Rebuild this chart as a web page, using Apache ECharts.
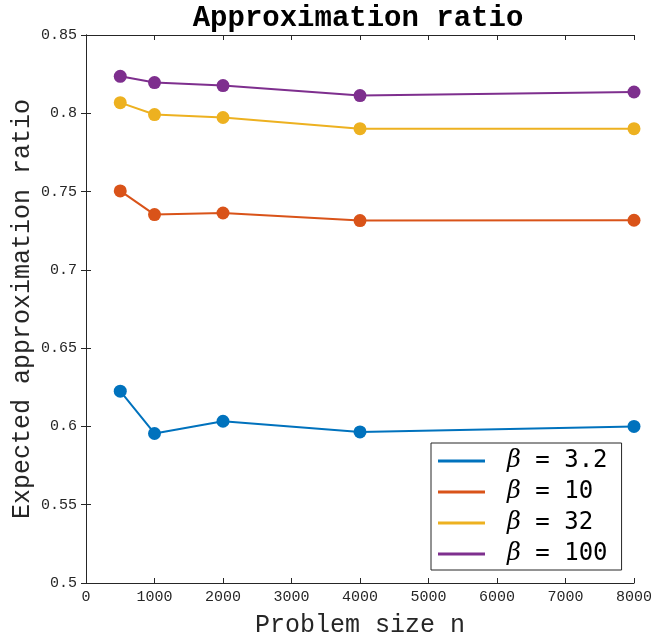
<!DOCTYPE html>
<html>
<head>
<meta charset="utf-8">
<script src="https://cdn.jsdelivr.net/npm/echarts@6/dist/echarts.min.js"></script>
<style>
html,body{margin:0;padding:0;background:#fff;}
#chart{width:651px;height:637px;}
</style>
</head>
<body>
<div id="chart"></div>
<script>
const problemSizes = [500, 1000, 2000, 4000, 8000];
const betaLabels = ['3.2', '10', '32', '100'];
const ratioBeta3_2 = [0.6225, 0.5955, 0.6033, 0.5965, 0.6000];
const ratioBeta10 = [0.7504, 0.7353, 0.7363, 0.7315, 0.7317];
const ratioBeta32 = [0.8068, 0.7992, 0.7973, 0.7902, 0.7902];
const ratioBeta100 = [0.8236, 0.8196, 0.8177, 0.8113, 0.8136];
const xTicks = [0, 1000, 2000, 3000, 4000, 5000, 6000, 7000, 8000];
const yTicks = [0.5, 0.55, 0.6, 0.65, 0.7, 0.75, 0.8, 0.85];

const colors = ['#0072BD', '#D95319', '#EDB120', '#7E2F8E'];
const allSeries = [ratioBeta3_2, ratioBeta10, ratioBeta32, ratioBeta100];

const mono = 'Liberation Mono';
const axisColor = '#262626';

const chart = echarts.init(document.getElementById('chart'), null, {renderer: 'canvas'});

const series = allSeries.map((vals, i) => ({
  name: 'β = ' + betaLabels[i],
  type: 'line',
  data: problemSizes.map((x, j) => [x, vals[j]]),
  symbol: 'circle',
  symbolSize: 13,
  lineStyle: {width: 2, color: colors[i]},
  itemStyle: {color: colors[i]},
  z: 3 + i
}));

const option = {
  animation: false,
  backgroundColor: '#fff',
  title: {
    text: 'Approximation ratio',
    left: 358,
    textAlign: 'center',
    top: 4,
    padding: 0,
    textStyle: {fontFamily: mono, fontWeight: 'bold', fontSize: 29, color: '#000'}
  },
  grid: {left: 86, right: 17, top: 35, bottom: 54, containLabel: false, outerBoundsMode: 'none'},
  legend: {
    orient: 'vertical',
    left: 431,
    top: 443,
    padding: [6, 14, 4, 7],
    itemGap: 7,
    itemWidth: 47,
    itemHeight: 3,
    icon: 'rect',
    backgroundColor: '#fff',
    borderColor: axisColor,
    borderWidth: 1,
    data: series.map(s => s.name),
    formatter: n => '{b|β}{t| = ' + n.slice(4) + '}',
    textStyle: {
      lineHeight: 23,
      rich: {
        b: {fontFamily: 'DejaVu Serif', fontStyle: 'italic', fontSize: 24, color: '#000', padding: [0, 0, 0, 17], lineHeight: 23},
        t: {fontFamily: 'DejaVu Sans Mono', fontSize: 24, color: '#000', lineHeight: 23}
      }
    }
  },
  xAxis: [{
    type: 'value',
    min: xTicks[0],
    max: xTicks[xTicks.length - 1],
    interval: 1000,
    name: 'Problem size n',
    nameLocation: 'middle',
    nameGap: 30,
    nameTextStyle: {fontFamily: mono, fontSize: 25, color: axisColor},
    axisLine: {show: true, lineStyle: {color: axisColor, width: 1}},
    axisTick: {show: true, inside: true, length: 5, lineStyle: {color: axisColor}},
    axisLabel: {fontFamily: mono, fontSize: 15, color: axisColor, margin: 7, formatter: v => String(v)},
    splitLine: {show: false}
  }, {
    type: 'value',
    position: 'top',
    min: xTicks[0],
    max: xTicks[xTicks.length - 1],
    interval: 1000,
    axisLine: {show: true, lineStyle: {color: axisColor, width: 1}},
    axisTick: {show: true, inside: true, length: 5, lineStyle: {color: axisColor}},
    axisLabel: {show: false},
    splitLine: {show: false}
  }],
  yAxis: [{
    type: 'value',
    min: yTicks[0],
    max: yTicks[yTicks.length - 1],
    interval: 0.05,
    name: 'Expected approximation ratio',
    nameLocation: 'middle',
    nameGap: 51,
    nameMoveOverlap: false,
    nameTextStyle: {fontFamily: mono, fontSize: 25, color: axisColor},
    axisLine: {show: true, lineStyle: {color: axisColor, width: 1}},
    axisTick: {show: true, inside: true, length: 5, lineStyle: {color: axisColor}},
    axisLabel: {fontFamily: mono, fontSize: 15, color: axisColor, margin: 9},
    splitLine: {show: false}
  }, {
    type: 'value',
    position: 'right',
    min: yTicks[0],
    max: yTicks[yTicks.length - 1],
    interval: 0.05,
    axisLine: {show: true, lineStyle: {color: axisColor, width: 1}},
    axisTick: {show: true, inside: true, length: 5, lineStyle: {color: axisColor}},
    axisLabel: {show: false},
    splitLine: {show: false}
  }],
  series: series
};
chart.setOption(option);
</script>
</body>
</html>
